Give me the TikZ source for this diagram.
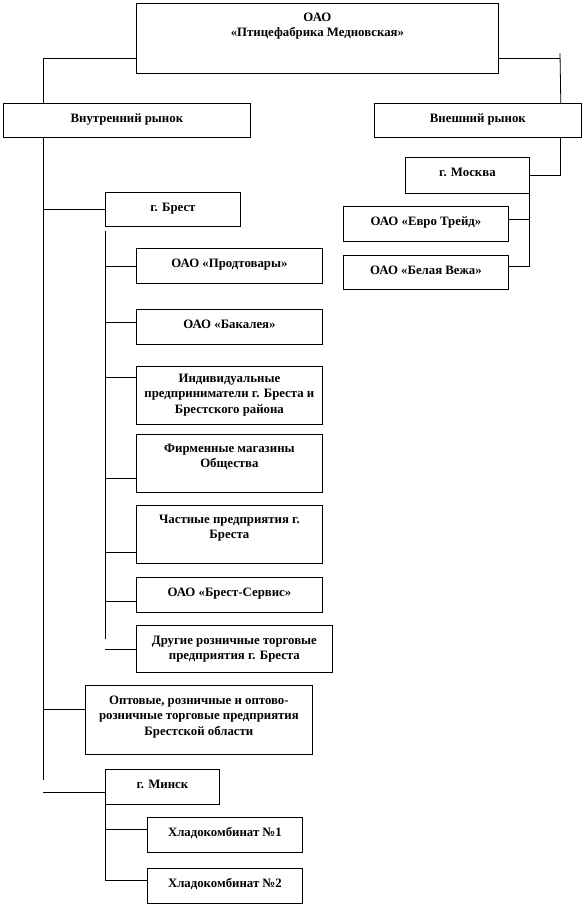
\documentclass[tikz,border=0pt]{standalone}
\usepackage{fontspec}
\setmainfont{Liberation Serif}
\newcommand\bxt[4]{\parbox[c][#2pt][t]{#1pt}{\centering\bfseries\rule{0pt}{#3pt}#4}}
\begin{document}
\begin{tikzpicture}[x=1pt,y=-1pt,
  bx/.style={draw,line width=0.8pt,inner sep=0pt,anchor=north west,font=\fontsize{12.8}{15.5}\selectfont},
  ln/.style={line width=0.8pt}]
\useasboundingbox (0,0) rectangle (584,906);
% boxes
\node[bx] (top) at (136,3) {\bxt{362}{70}{18}{ОАО\\«Птицефабрика Медновская»}};
\node[bx] (vnutr) at (3,103) {\bxt{247}{34}{19}{Внутренний рынок}};
\node[bx] (vnesh) at (374,103) {\bxt{207}{34}{19}{Внешний рынок}};
\node[bx] (moskva) at (405,157) {\bxt{124}{36}{19}{г. Москва}};
\node[bx] (evro) at (343,206) {\bxt{165}{35}{19}{ОАО «Евро Трейд»}};
\node[bx] (belaya) at (343,255) {\bxt{165}{34}{19}{ОАО «Белая Вежа»}};
\node[bx] (brest) at (105,192) {\bxt{135}{34}{19}{г. Брест}};
\node[bx] (prod) at (136,248) {\bxt{186}{35}{19}{ОАО «Продтовары»}};
\node[bx] (bakal) at (136,309) {\bxt{186}{35}{19}{ОАО «Бакалея»}};
\node[bx] (ind) at (136,366) {\bxt{186}{58}{16}{Индивидуальные\\предприниматели г. Бреста и\\Брестского района}};
\node[bx] (firm) at (136,434) {\bxt{186}{58}{18}{Фирменные магазины\\Общества}};
\node[bx] (chast) at (136,505) {\bxt{186}{58}{18}{Частные предприятия г.\\Бреста}};
\node[bx] (bservis) at (136,577) {\bxt{186}{35}{19}{ОАО «Брест-Сервис»}};
\node[bx] (drugie) at (136,625) {\bxt{196}{47}{19}{Другие розничные торговые\\предприятия г. Бреста}};
\node[bx] (opt) at (85,685) {\bxt{227}{69}{19}{Оптовые, розничные и оптово-\\розничные торговые предприятия\\Брестской области}};
\node[bx] (minsk) at (105,769) {\bxt{114}{35}{19}{г. Минск}};
\node[bx] (h1) at (147,817) {\bxt{155}{35}{19}{Хладокомбинат №1}};
\node[bx] (h2) at (147,868) {\bxt{155}{35}{19}{Хладокомбинат №2}};
% coordinates
\coordinate (rt) at (560,53);
\coordinate (lend) at (43,780);
\coordinate (bs) at (105,231);
\coordinate (be) at (105,639);
% top connectors
\draw[ln] ([yshift=15pt]top.south west) -| ([xshift=40pt]vnutr.north west);
\draw[ln] ([yshift=15pt]top.south east) -- ([yshift=15pt]top.south east -| rt);
\draw[ln] (rt) -- ([xshift=-21pt]vnesh.north east);
% external market
\draw[ln] ([xshift=-21pt]vnesh.south east) |- (moskva.east);
\draw[ln] (moskva.south east) |- ([yshift=6pt]belaya.east);
\draw[ln] ([yshift=4.5pt]evro.east) -| (moskva.south east);
% internal market
\draw[ln] ([xshift=40pt]vnutr.south west) -- (lend);
\draw[ln] (brest.west) -- (brest.west -| lend);
\draw[ln] ([yshift=10.5pt]opt.west) -- ([yshift=10.5pt]opt.west -| lend);
\draw[ln] ([yshift=-5.5pt]minsk.west) -- ([yshift=-5.5pt]minsk.west -| lend);
% Brest
\draw[ln] (bs) -- (be);
\draw[ln] (prod.west) -- (prod.west -| bs);
\draw[ln] ([yshift=4.5pt]bakal.west) -- ([yshift=4.5pt]bakal.west -| bs);
\draw[ln] ([yshift=18pt]ind.west) -- ([yshift=18pt]ind.west -| bs);
\draw[ln] ([yshift=-15pt]firm.west) -- ([yshift=-15pt]firm.west -| bs);
\draw[ln] ([yshift=-18pt]chast.west) -- ([yshift=-18pt]chast.west -| bs);
\draw[ln] ([yshift=-6.5pt]bservis.west) -- ([yshift=-6.5pt]bservis.west -| bs);
\draw[ln] (drugie.west) -- (drugie.west -| bs);
% Minsk
\draw[ln] (minsk.south west) |- ([yshift=5.5pt]h2.west);
\draw[ln] ([yshift=5.5pt]h1.west) -- ([yshift=5.5pt]h1.west -| minsk.south west);
\end{tikzpicture}
\end{document}
